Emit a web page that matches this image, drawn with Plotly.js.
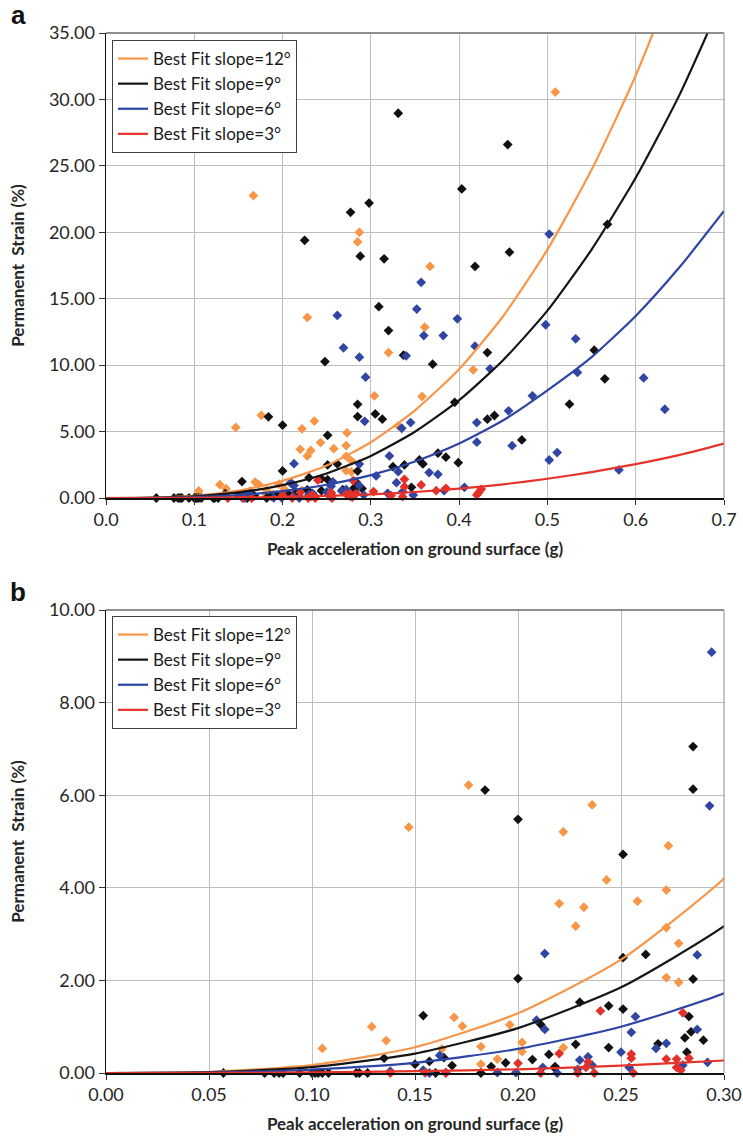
<!DOCTYPE html>
<html><head><meta charset="utf-8">
<script src="https://cdn.plot.ly/plotly-3.0.1.min.js"></script>
<style>html,body{margin:0;padding:0;background:#fff}#chart{width:743px;height:1140px}</style>
</head><body><div id="chart"></div>
<script>
// ---- Data (peak acceleration g, permanent strain %) ----
const accel12 = [0.105,0.129,0.136,0.147,0.163,0.167,0.169,0.173,0.176,0.182,0.182,0.190,0.196,0.202,0.202,0.220,0.222,0.222,0.228,0.228,0.232,0.236,0.243,0.258,0.272,0.272,0.272,0.273,0.278,0.278,0.285,0.287,0.304,0.320,0.331,0.358,0.361,0.367,0.416,0.509];
const strain12 = [0.53,1.00,0.70,5.31,0.52,22.76,1.20,1.01,6.22,0.57,0.19,0.30,1.04,0.66,0.46,3.66,5.21,0.55,3.17,13.59,3.58,5.79,4.17,3.71,3.95,3.14,2.06,4.91,2.80,1.96,19.27,20.0,7.69,10.95,5.43,7.64,12.86,17.43,9.65,30.55];

const accel9 = [0.057,0.077,0.0816,0.084,0.086,0.094,0.100,0.1015,0.103,0.105,0.108,0.1215,0.123,0.127,0.135,0.150,0.154,0.157,0.160,0.164,0.168,0.182,0.184,0.187,0.194,0.200,0.200,0.207,0.211,0.215,0.218,0.218,0.225,0.228,0.230,0.244,0.244,0.248,0.251,0.251,0.251,0.262,0.268,0.277,0.281,0.282,0.283,0.284,0.285,0.285,0.285,0.288,0.290,0.298,0.305,0.309,0.313,0.315,0.320,0.325,0.331,0.337,0.338,0.346,0.355,0.359,0.370,0.376,0.385,0.395,0.399,0.403,0.418,0.432,0.432,0.440,0.455,0.457,0.471,0.525,0.553,0.565,0.568];
const strain9 = [0,0,0,0,0,0,0,0,0,0,0,0,0,0,0.32,0.19,1.24,0.25,0.0,0.33,0.16,0.0,6.11,0.14,0.22,2.04,5.48,0.29,1.05,0.40,0.14,0.10,19.4,0.62,1.53,1.45,0.55,10.27,4.72,2.49,1.38,2.56,0.63,21.5,0.76,0.45,1.22,0.89,2.03,6.13,7.05,18.2,0.71,22.2,6.33,14.4,5.93,18.0,12.6,2.36,28.96,10.75,2.49,0.80,2.86,2.56,10.07,3.37,3.07,7.2,2.66,23.26,17.43,10.95,5.93,6.21,26.6,18.5,4.37,7.06,11.13,8.97,20.6];

const accel6 = [0.138,0.154,0.155,0.157,0.162,0.165,0.190,0.199,0.209,0.212,0.213,0.213,0.219,0.229,0.230,0.234,0.236,0.250,0.254,0.255,0.257,0.262,0.267,0.269,0.272,0.280,0.287,0.287,0.287,0.292,0.293,0.294,0.306,0.319,0.321,0.329,0.331,0.335,0.336,0.340,0.345,0.348,0.352,0.357,0.360,0.366,0.376,0.382,0.383,0.398,0.406,0.418,0.420,0.420,0.435,0.456,0.460,0.483,0.498,0.502,0.502,0.511,0.532,0.534,0.581,0.609,0.633];
const strain6 = [0.04,0.06,0.01,0.0,0.38,0.01,0.01,0.01,1.14,0.12,0.94,2.58,0.0,0.08,0.28,0.35,0.17,0.45,0.12,0.88,1.22,13.74,0.53,11.3,0.64,0.17,0.94,2.55,10.6,0.23,5.77,9.09,1.66,0.35,3.17,1.15,1.98,5.25,0.48,10.7,5.68,0.22,14.22,16.23,12.23,1.91,1.78,12.23,0.55,13.49,0.80,11.43,5.68,4.20,9.72,6.56,3.94,7.69,13.04,19.87,2.86,3.42,11.98,9.45,2.11,9.04,6.68];

const accel3 = [0.138,0.155,0.165,0.200,0.211,0.220,0.229,0.233,0.234,0.237,0.240,0.255,0.255,0.256,0.272,0.277,0.277,0.279,0.280,0.283,0.303,0.323,0.336,0.338,0.338,0.357,0.374,0.385,0.420,0.422,0.425];
const strain3 = [0.0,0.01,0.0,0.21,0.0,0.42,0.0,0.12,0.24,0.0,1.34,0.41,0.32,0.0,0.30,0.30,0.12,0.06,1.30,0.32,0.48,0.18,0.10,1.41,0.85,0.98,0.55,0.73,0.23,0.40,0.65];

// Best-fit curves, values
const fitAccel = [0,0.05,0.10,0.15,0.20,0.25,0.30,0.35,0.40,0.45,0.50,0.55,0.60,0.65,0.70];
const fit12 = [0,0.022,0.17,0.555,1.29,2.45,4.2,6.6,9.7,13.7,18.7,24.7,31.8,40.2,50.0];
const fit9  = [0,0.017,0.128,0.42,0.97,1.85,3.17,4.99,7.36,10.39,14.1,18.7,24.1,30.4,37.8];
const fit6  = [0,0.009,0.07,0.22,0.52,1.0,1.72,2.75,4.1,5.85,8.1,10.6,13.7,17.4,21.6];
const fit3  = [0,0.0015,0.012,0.04,0.08,0.16,0.27,0.45,0.70,1.03,1.45,1.95,2.55,3.25,4.1];

const legendNames = ['Best Fit slope=12°','Best Fit slope=9°','Best Fit slope=6°','Best Fit slope=3°'];
const xTitle = 'Peak acceleration on ground surface (g)';
const yTitle = 'Permanent  Strain (%)';

const markerCol = ['#F79646','#111111','#3145A3','#E3302A'];
const lineCol = ['#F7964A','#151515','#2E45A6','#E5332A'];
const scatterX = [accel12, accel9, accel6, accel3];
const scatterY = [strain12, strain9, strain6, strain3];
const fitY = [fit12, fit9, fit6, fit3];

const traces = [];
['', '2'].forEach((sfx, pi) => {
  for (let i = 0; i < 4; i++) {
    traces.push({
      type: 'scatter', mode: 'markers', x: scatterX[i], y: scatterY[i],
      xaxis: 'x' + sfx, yaxis: 'y' + sfx, showlegend: false, cliponaxis: false,
      marker: {symbol: 'diamond', size: 7.5, color: markerCol[i], line: {width: 0}},
      hoverinfo: 'x+y'
    });
  }
  for (let i = 0; i < 4; i++) {
    traces.push({
      type: 'scatter', mode: 'lines', x: fitAccel, y: fitY[i],
      xaxis: 'x' + sfx, yaxis: 'y' + sfx, name: legendNames[i],
      legend: pi === 0 ? 'legend' : 'legend2', showlegend: true,
      line: {color: lineCol[i], width: 2.2, shape: 'spline', smoothing: 0.6}
    });
  }
});

const font = 'Lato, "Open Sans", sans-serif';
const tickFont = {family: font, size: 18, color: '#262626'};
const titleFont = {family: font, size: 17, color: '#262626', weight: 'bold'};
const legendFont = {family: font, size: 17, color: '#1a1a1a'};

function xax(range, dtick, fmt, anchor) {
  return {domain: [0, 1], range: range, dtick: dtick, tick0: 0, tickformat: fmt, anchor: anchor,
    showgrid: true, gridcolor: '#BFBFBF', gridwidth: 1, zeroline: false,
    showline: true, linecolor: '#111', linewidth: 1.5, ticks: 'outside', ticklen: 5, tickcolor: '#333',
    tickfont: tickFont, automargin: false, fixedrange: true,
    title: {text: xTitle, font: titleFont, standoff: 14}};
}
function yax(domainY, range, dtick, anchor) {
  return {domain: domainY, range: range, dtick: dtick, tick0: 0, tickformat: '.2f', anchor: anchor,
    showgrid: true, gridcolor: '#BFBFBF', gridwidth: 1, zeroline: false,
    showline: true, linecolor: '#111', linewidth: 1.5, ticks: 'outside', ticklen: 6, tickcolor: '#333',
    tickfont: tickFont, automargin: false, fixedrange: true,
    title: {text: yTitle, font: titleFont, standoff: 20}};
}

const W = 743, H = 1140;
const ML = 106, MR = 19, MT = 33, MB = 67;
const PW = W - ML - MR, PH = H - MT - MB;
const px = v => (v - ML) / PW;           // page x -> paper x
const py = v => (H - MB - v) / PH;       // page y -> paper y
const layout = {
  width: W, height: H, margin: {l: ML, r: MR, t: MT, b: MB, pad: 0},
  paper_bgcolor: '#fff', plot_bgcolor: '#fff',
  xaxis: xax([0, 0.7], 0.1, '.1f', 'y'),
  yaxis: yax([py(498), 1], [0, 35], 5, 'x'),
  xaxis2: xax([0, 0.3], 0.05, '.2f', 'y2'),
  yaxis2: yax([0, py(610)], [0, 10], 2, 'x2'),
  legend: {x: px(112), y: py(40), xanchor: 'left', yanchor: 'top', bgcolor: '#fff',
    bordercolor: '#404040', borderwidth: 1, font: legendFont, itemwidth: 30, tracegroupgap: 0},
  legend2: {x: px(112), y: py(616), xanchor: 'left', yanchor: 'top', bgcolor: '#fff',
    bordercolor: '#404040', borderwidth: 1, font: legendFont, itemwidth: 30, tracegroupgap: 0},
  shapes: [
    {type: 'line', xref: 'x domain', yref: 'y domain', x0: 0, x1: 1, y0: 1, y1: 1, line: {color: '#6a6a6a', width: 1.5}},
    {type: 'line', xref: 'x domain', yref: 'y domain', x0: 1, x1: 1, y0: 0, y1: 1, line: {color: '#8a8a8a', width: 1}},
    {type: 'line', xref: 'x2 domain', yref: 'y2 domain', x0: 0, x1: 1, y0: 1, y1: 1, line: {color: '#6a6a6a', width: 1.5}},
    {type: 'line', xref: 'x2 domain', yref: 'y2 domain', x0: 1, x1: 1, y0: 0, y1: 1, line: {color: '#8a8a8a', width: 1}}
  ],
  annotations: [
    {text: 'a', xref: 'paper', yref: 'paper', x: px(18), y: py(15), xanchor: 'center', yanchor: 'middle', showarrow: false,
      font: {family: 'Liberation Sans, Arial, sans-serif', size: 26, color: '#111', weight: 'bold'}},
    {text: 'b', xref: 'paper', yref: 'paper', x: px(18), y: py(592), xanchor: 'center', yanchor: 'middle', showarrow: false,
      font: {family: 'Liberation Sans, Arial, sans-serif', size: 26, color: '#111', weight: 'bold'}}
  ],
  showlegend: true
};

Plotly.newPlot('chart', traces, layout, {displayModeBar: false, staticPlot: true});
</script>
</body></html>
